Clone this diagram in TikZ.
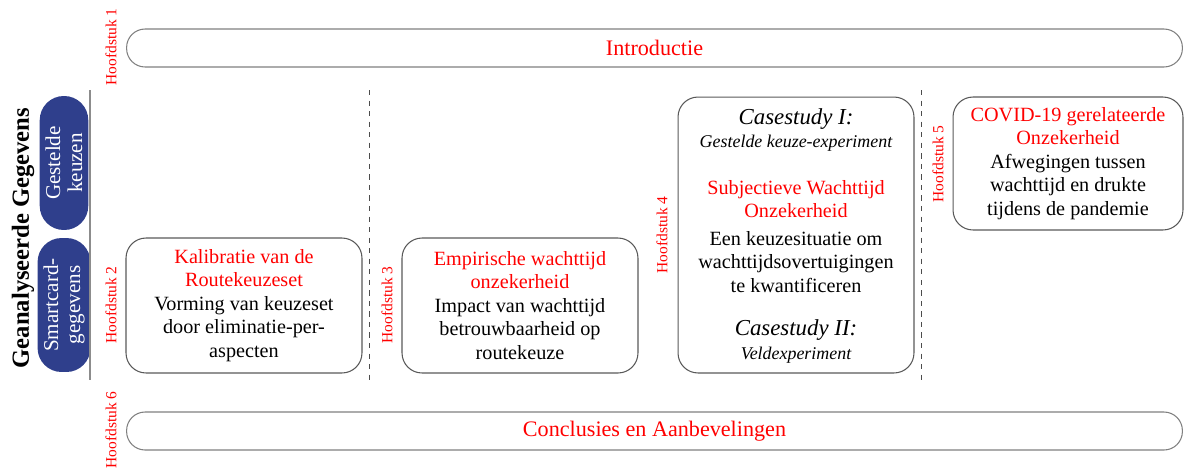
\documentclass[tikz,border=0pt]{standalone}
\usepackage{fontspec}
\setmainfont{Liberation Serif}
\usepackage{tikz}
\definecolor{pilblauw}{HTML}{2F3F8C}

\begin{document}
\begin{tikzpicture}[x=0.02cm, y=-0.02cm,
    tekst/.style={align=center, font=\fontsize{11.5}{13.4}\selectfont},
    balk/.style={draw=black!50, line width=0.6pt, rounded corners=0.37cm,
        minimum width=21.12cm, minimum height=0.76cm, text=red,
        font=\fontsize{12.6}{14}\selectfont},
    vak/.style={tekst, draw=black!65, line width=0.6pt, rounded corners=0.4cm,
        minimum width=4.72cm, inner sep=0pt},
    pil/.style={fill=pilblauw, rotate=90, rounded corners=0.48cm,
        minimum width=2.68cm, minimum height=0.96cm, text=white, align=center,
        font=\fontsize{12}{12.5}\selectfont},
    hfd/.style={rotate=90, text=red, font=\fontsize{8.8}{10}\selectfont},
    scheiding/.style={black!70, dashed, line width=0.5pt}]
\useasboundingbox (0,0) rectangle (1184,468);

% hoofdstuk 1 en 6
\node[balk] (intro) at (654.5,48) {Introductie};
\node[balk] (concl) at (654.5,431) {Conclusies en Aanbevelingen};
\node[hfd] (h1) at (111,47) {Hoofdstuk 1};
\node[hfd] (h6) at (111,430) {Hoofdstuk 6};

% gegevens
\node[rotate=90, font=\fontsize{14}{16}\selectfont\bfseries] (gegevens) at (23,238) {Geanalyseerde Gegevens};
\node[pil] (gesteld) at (64,163) {Gestelde\\keuzen};
\node[pil] (smart) at (64,305) {Smartcard-\\gegevens};
\draw[black!45, line width=0.8pt] (90,90) -- (90,380);
\draw[scheiding] (369,90) -- (369,380);
\draw[scheiding] (921,90) -- (921,380);

% hoofdstuk 2
\node[hfd] (h2) at (111,305) {Hoofdstuk 2};
\node[vak, minimum height=2.7cm] (kalib) at (244,305.5)
    {\textcolor{red}{Kalibratie van de}\\\textcolor{red}{Routekeuzeset}\\Vorming van keuzeset\\door eliminatie-per-\\aspecten};

% hoofdstuk 3
\node[hfd] (h3) at (387,305) {Hoofdstuk 3};
\node[vak, minimum height=2.7cm] (empir) at (520,305.5)
    {\textcolor{red}{Empirische wachttijd}\\\textcolor{red}{onzekerheid}\\Impact van wachttijd\\betrouwbaarheid op\\routekeuze};

% hoofdstuk 4
\node[hfd] (h4) at (662,235) {Hoofdstuk 4};
\node[vak, minimum height=5.52cm] (cases) at (796,235) {};
\node[tekst, font=\fontsize{13}{14}\selectfont\itshape] (cs1) at (796,119) {Casestudy I:};
\node[tekst, font=\fontsize{10.2}{11}\selectfont\itshape] (cs1b) at (796,143) {Gestelde keuze-experiment};
\node[tekst, text=red] (subj) at (796,199) {Subjectieve Wachttijd\\Onzekerheid};
\node[tekst] (keuze) at (796,262) {Een keuzesituatie om\\wachttijdsovertuigingen\\te kwantificeren};
\node[tekst, font=\fontsize{13}{14}\selectfont\itshape] (cs2) at (796,330) {Casestudy II:};
\node[tekst, font=\fontsize{10.2}{11}\selectfont\itshape] (cs2b) at (796,355) {Veldexperiment};

% hoofdstuk 5
\node[hfd] (h5) at (938,164) {Hoofdstuk 5};
\node[vak, minimum width=4.6cm, minimum height=2.66cm] (covid) at (1068,163.5)
    {\textcolor{red}{COVID-19 gerelateerde}\\\textcolor{red}{Onzekerheid}\\Afwegingen tussen\\wachttijd en drukte\\tijdens de pandemie};
\end{tikzpicture}
\end{document}
